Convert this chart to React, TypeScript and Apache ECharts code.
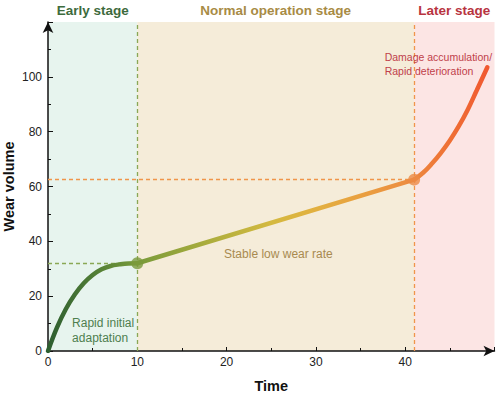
import React, { useEffect, useRef } from "react";
import * as echarts from "echarts";

// Wear curve, read in three stages
const earlyTime = [0, 1, 2, 3, 4, 5, 6, 7, 8, 9, 10];
const earlyWear = [0, 8.5, 15.3, 20.6, 24.7, 27.7, 29.8, 31, 31.6, 31.95, 32];

const normalTime = [10, 41];
const normalWear = [32, 62.5];

const laterTime = [41, 42, 43, 44, 45, 46, 47, 48, 49.2];
const laterWear = [62.5, 65, 68.4, 72.3, 76.8, 82, 88, 95, 103.5];

// Stage boundaries on the time axis and their titles
const stageEdges = [0, 10, 41, 50];
const stageNames = ["Early stage", "Normal operation stage", "Later stage"];
const stageFill = ["#e7f4ee", "#f5ecd9", "#fce5e4"];
const stageTitleColor = ["#3d6b3d", "#a88b45", "#b8343f"];

// Transition points between stages
const transitionTime = [10, 41];
const transitionWear = [32, 62.5];
const transitionColor = ["#7a9a3c", "#ec8a44"];
const transitionLineColor = ["#8aa855", "#f0954a"];

// Axis ranges
const timeMax = 50;
const wearMax = 120;

const FONT = "'Liberation Sans', Arial, Helvetica, sans-serif";

const zip = (xs: number[], ys: number[]) => xs.map((x, i) => [x, ys[i]]);

export default function App() {
  const ref = useRef<HTMLDivElement>(null);

  useEffect(() => {
    if (!ref.current) return;
    const chart = echarts.init(ref.current, undefined, { renderer: "svg" });

    const markAreaData = stageNames.map((name, i) => [
      {
        name,
        xAxis: stageEdges[i],
        itemStyle: { color: stageFill[i] },
        label: { color: stageTitleColor[i] },
      },
      { xAxis: stageEdges[i + 1] },
    ]);

    const dashed = (color: string) => ({
      color,
      type: [4, 3] as any,
      width: 1.3,
    });

    const markLineData: any[] = [];
    transitionTime.forEach((t, i) => {
      markLineData.push({ xAxis: t, lineStyle: dashed(transitionLineColor[i]) });
      markLineData.push([
        { coord: [0, transitionWear[i]], lineStyle: dashed(transitionLineColor[i]) },
        { coord: [t, transitionWear[i]] },
      ]);
    });

    const option: any = {
      animation: false,
      textStyle: { fontFamily: FONT },
      grid: {
        left: 48,
        right: 5.5,
        top: 22,
        bottom: 45,
        containLabel: false,
        outerBoundsMode: "none",
      },
      visualMap: {
        show: false,
        type: "continuous",
        dimension: 0,
        seriesIndex: [0, 1, 2],
        min: 0,
        max: timeMax,
        inRange: {
          color: [
            "#2d5e30",
            "#507c35",
            "#789a3a",
            "#98a63c",
            "#b8b13e",
            "#d4b940",
            "#e2b040",
            "#e9a040",
            "#ec8e40",
            "#ef7035",
            "#f05530",
          ],
        },
      },
      xAxis: {
        type: "value",
        min: 0,
        max: timeMax,
        interval: 10,
        name: "Time",
        nameLocation: "middle",
        nameGap: 27,
        nameTextStyle: { fontSize: 14.5, fontWeight: "bold", color: "#111", fontFamily: FONT },
        axisLine: {
          show: true,
          symbol: ["none", "arrow"],
          symbolSize: [8, 11],
          lineStyle: { color: "#111", width: 1.5 },
        },
        axisTick: { show: true, inside: true, length: 4, lineStyle: { color: "#111" } },
        minorTick: { show: true, splitNumber: 2, length: 3, lineStyle: { color: "#111" } },
        axisLabel: { showMaxLabel: false, margin: 5, fontSize: 12, color: "#222", fontFamily: FONT },
        splitLine: { show: false },
      },
      yAxis: {
        type: "value",
        min: 0,
        max: wearMax,
        interval: 20,
        name: "Wear volume",
        nameLocation: "middle",
        nameGap: 32,
        nameMoveOverlap: false,
        nameTextStyle: { fontSize: 14.5, fontWeight: "bold", color: "#111", fontFamily: FONT },
        axisLine: {
          show: true,
          symbol: ["none", "arrow"],
          symbolSize: [8, 11],
          lineStyle: { color: "#111", width: 1.5 },
        },
        axisTick: { show: true, inside: true, length: 5, lineStyle: { color: "#111" } },
        minorTick: { show: true, splitNumber: 2, length: 3, lineStyle: { color: "#111" } },
        axisLabel: { showMaxLabel: false, margin: 6, fontSize: 12, color: "#222", fontFamily: FONT },
        splitLine: { show: false },
      },
      series: [
        {
          name: "early",
          type: "line",
          data: zip(earlyTime, earlyWear),
          smooth: 0.4,
          showSymbol: false,
          lineStyle: { width: 4.5, cap: "round" },
          z: 5,
          markArea: {
            silent: true,
            z: 0,
            label: {
              show: true,
              position: "top",
              distance: 5,
              fontSize: 13.5,
              fontWeight: "bold",
              fontFamily: FONT,
            },
            data: markAreaData,
          },
          markLine: {
            silent: true,
            symbol: ["none", "none"],
            label: { show: false },
            z: 1,
            data: markLineData,
          },
        },
        {
          name: "normal",
          type: "line",
          data: zip(normalTime, normalWear),
          showSymbol: false,
          lineStyle: { width: 4.5, cap: "round" },
          z: 5,
          markPoint: {
            silent: true,
            symbol: "circle",
            symbolSize: 0,
            data: [
              {
                coord: [2.7, 7.6],
                label: {
                  show: true,
                  position: "right",
                  distance: 0,
                  align: "left",
                  formatter: "Rapid initial\nadaptation",
                  lineHeight: 15,
                  fontSize: 12,
                  color: "#4e7f4e",
                  fontFamily: FONT,
                },
              },
              {
                coord: [25.8, 35.4],
                label: {
                  show: true,
                  position: "inside",
                  formatter: "Stable low wear rate",
                  fontSize: 12,
                  color: "#a88a50",
                  fontFamily: FONT,
                },
              },
              {
                coord: [37.7, 104.8],
                label: {
                  show: true,
                  position: "right",
                  distance: 0,
                  align: "left",
                  formatter: "Damage accumulation/\nRapid deterioration",
                  lineHeight: 14,
                  fontSize: 10.5,
                  color: "#c0404a",
                  fontFamily: FONT,
                },
              },
            ],
          },
        },
        {
          name: "later",
          type: "line",
          data: zip(laterTime, laterWear),
          smooth: 0.4,
          showSymbol: false,
          lineStyle: { width: 4.5, cap: "round" },
          z: 5,
        },
        {
          name: "transitions",
          type: "scatter",
          symbol: "circle",
          symbolSize: 12,
          z: 6,
          data: transitionTime.map((t, i) => ({
            value: [t, transitionWear[i]],
            itemStyle: { color: transitionColor[i] },
          })),
        },
      ],
    };

    chart.setOption(option);
    return () => chart.dispose();
  }, []);

  return (
    <div
      ref={ref}
      style={{ position: "fixed", left: 0, top: 0, width: 500, height: 396, background: "#fff" }}
    />
  );
}
